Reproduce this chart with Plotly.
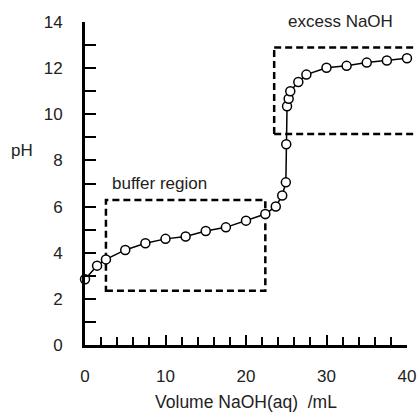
import plotly.graph_objects as go

# Titration of a weak acid with NaOH(aq)
volume_ml = [0, 1.5, 2.6, 5.0, 7.5, 10.0, 12.5, 15.0, 17.5, 20.0, 22.4, 23.7, 24.5,
             24.95, 25.0, 25.1, 25.3, 25.5, 26.5, 27.5, 30.0, 32.5, 35.0, 37.5, 40.0]
ph = [2.85, 3.44, 3.71, 4.12, 4.41, 4.60, 4.70, 4.94, 5.10, 5.39, 5.68, 6.00, 6.48,
      7.05, 8.70, 10.35, 10.67, 11.00, 11.40, 11.72, 12.02, 12.10, 12.24, 12.33, 12.43]

x_tick_vals = [0, 10, 20, 30, 40]
x_tick_text = ["0", "10", "20", "30", "40"]

# Region boxes: (x0, x1, y0, y1) in mL / pH
buffer_box = (2.6, 22.4, 2.35, 6.28)
excess_box = (23.5, 41.2, 9.15, 12.9)

X_RANGE = [-0.001, 40.001]
Y_RANGE = [0, 14]
FONT = "Liberation Sans, Arial, sans-serif"
TEXT_COLOR = "#222222"
DASH = "7px,4px"


def px(v):
    return (v - X_RANGE[0]) / (X_RANGE[1] - X_RANGE[0])


def py(v):
    return (v - Y_RANGE[0]) / (Y_RANGE[1] - Y_RANGE[0])


fig = go.Figure()
fig.add_trace(go.Scatter(
    x=volume_ml, y=ph, mode="lines+markers",
    line=dict(color="black", width=1.5),
    marker=dict(symbol="circle", size=9, color="white",
                line=dict(color="black", width=1.5)),
    cliponaxis=False, showlegend=False,
))

shapes = []
line_style = dict(color="black", width=2.5, dash=DASH)
# buffer region rectangle
bx0, bx1, by0, by1 = buffer_box
shapes.append(dict(type="rect", xref="x", yref="y", x0=bx0, x1=bx1, y0=by0, y1=by1,
                   line=line_style, fillcolor="rgba(0,0,0,0)", layer="below"))
# excess NaOH box, open past the right edge
ex0, ex1, ey0, ey1 = excess_box
for (xa, ya), (xb, yb) in [((ex0, ey0), (ex0, ey1)),
                           ((ex0, ey1), (ex1, ey1)),
                           ((ex0, ey0), (ex1, ey0))]:
    shapes.append(dict(type="line", xref="paper", yref="paper",
                       x0=px(xa), x1=px(xb), y0=py(ya), y1=py(yb),
                       line=line_style, layer="below"))

annotations = [
    dict(text="buffer region", x=9.3, y=7.0, xref="x", yref="y", showarrow=False,
         xanchor="center", yanchor="middle",
         font=dict(size=17, color=TEXT_COLOR, family=FONT)),
    dict(text="excess NaOH", x=px(31.7), y=py(14.02), xref="paper", yref="paper",
         showarrow=False, xanchor="center", yanchor="middle",
         font=dict(size=17, color=TEXT_COLOR, family=FONT)),
    dict(text="pH", x=-0.196, y=py(8.45), xref="paper", yref="paper", showarrow=False,
         xanchor="center", yanchor="middle",
         font=dict(size=17, color=TEXT_COLOR, family=FONT)),
]

fig.update_layout(
    width=417, height=412,
    margin=dict(l=85, r=10, t=22, b=67, autoexpand=False),
    paper_bgcolor="white", plot_bgcolor="white",
    font=dict(family=FONT, size=17, color=TEXT_COLOR),
    shapes=shapes, annotations=annotations,
    xaxis=dict(
        range=X_RANGE, showgrid=False, zeroline=False, automargin=False,
        showline=True, linecolor="black", linewidth=3,
        ticks="inside", tickmode="array", tickvals=x_tick_vals, ticktext=x_tick_text,
        ticklen=10, tickwidth=2, tickcolor="black",
        minor=dict(ticks="inside", tickmode="linear", tick0=0, dtick=2,
                   ticklen=8, tickwidth=2, tickcolor="black"),
        ticklabelstandoff=14, ticklabeloverflow="allow",
        title=dict(text="Volume NaOH(aq)  /mL", standoff=12,
                   font=dict(size=17.5, color=TEXT_COLOR, family=FONT)),
    ),
    yaxis=dict(
        range=Y_RANGE, showgrid=False, zeroline=False, automargin=False,
        showline=True, linecolor="black", linewidth=3,
        ticks="inside", tickmode="linear", tick0=0, dtick=2,
        ticklen=11, tickwidth=2, tickcolor="black",
        minor=dict(ticks="inside", dtick=1, ticklen=11, tickwidth=2, tickcolor="black"),
        ticklabelstandoff=16,
    ),
)

fig.write_html("out.html")
